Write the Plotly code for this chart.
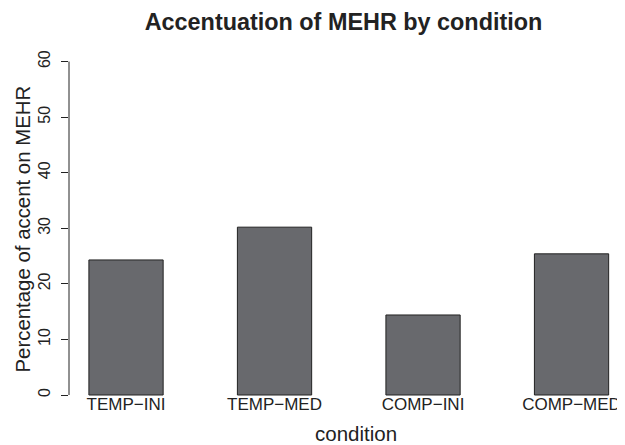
import plotly.graph_objects as go

categories = ["TEMP\u2212INI", "TEMP\u2212MED", "COMP\u2212INI", "COMP\u2212MED"]
percent_accent = [24.3, 30.2, 14.4, 25.4]
y_ticks = [0, 10, 20, 30, 40, 50, 60]

FONT = "Liberation Sans, Arial, Helvetica, sans-serif"
INK = "#222222"

# page body adds an 8px offset; lay out in figure pixels = screen pixels - 8
OFF = 8
W, H = 625 - OFF, 445 - OFF
ML, MR, MT, MB = 69 - OFF, 0, 48, 45
PW, PH = W - ML - MR, H - MT - MB


def px_to_paper_x(sx):
    return (sx - OFF - ML) / PW


def px_to_paper_y(sy):
    return (H - MB - (sy - OFF)) / PH


fig = go.Figure(
    go.Bar(
        x=categories,
        y=percent_accent,
        marker=dict(color="#68696d", line=dict(color=INK, width=1)),
        hoverinfo="x+y",
    )
)

fig.update_layout(
    width=W,
    height=H,
    margin=dict(l=ML, r=MR, t=MT, b=MB),
    paper_bgcolor="white",
    plot_bgcolor="white",
    bargap=0.5,
    showlegend=False,
    font=dict(family=FONT, color=INK, size=15),
    title=dict(
        text="<b>Accentuation of MEHR by condition</b>",
        x=(343.5 - OFF) / W,
        xref="container",
        xanchor="center",
        y=1 - (22 - OFF) / H,
        yref="container",
        yanchor="middle",
        font=dict(size=23.4, family=FONT, color=INK),
    ),
    xaxis=dict(
        type="category",
        range=[-0.384, 3.36],
        automargin=False,
        showline=False,
        showgrid=False,
        zeroline=False,
        ticks="",
        ticklabelstandoff=-8,
        ticklabeloverflow="allow",
        tickfont=dict(size=17, family=FONT, color=INK),
    ),
    yaxis=dict(
        range=[-0.9, 61],
        automargin=False,
        tickmode="array",
        tickvals=y_ticks,
        ticktext=[str(v) for v in y_ticks],
        tickangle=-90,
        ticks="outside",
        ticklen=7,
        tickwidth=1,
        tickcolor=INK,
        ticklabelstandoff=5,
        showline=False,
        showgrid=False,
        zeroline=False,
        tickfont=dict(size=16, family=FONT, color=INK),
    ),
    annotations=[
        dict(
            text="condition",
            xref="paper",
            yref="paper",
            x=px_to_paper_x(356),
            y=px_to_paper_y(433.5),
            xanchor="center",
            yanchor="middle",
            showarrow=False,
            font=dict(size=20.5, family=FONT, color=INK),
        ),
        dict(
            text="Percentage of accent on MEHR",
            xref="paper",
            yref="paper",
            x=px_to_paper_x(22),
            y=px_to_paper_y(229.5),
            xanchor="center",
            yanchor="middle",
            textangle=-90,
            showarrow=False,
            font=dict(size=20.4, family=FONT, color=INK),
        ),
    ],
)

fig.add_shape(
    type="line",
    xref="paper",
    yref="y",
    x0=0,
    x1=0,
    y0=min(y_ticks),
    y1=max(y_ticks),
    line=dict(color=INK, width=1),
)

fig.write_html("out.html")
